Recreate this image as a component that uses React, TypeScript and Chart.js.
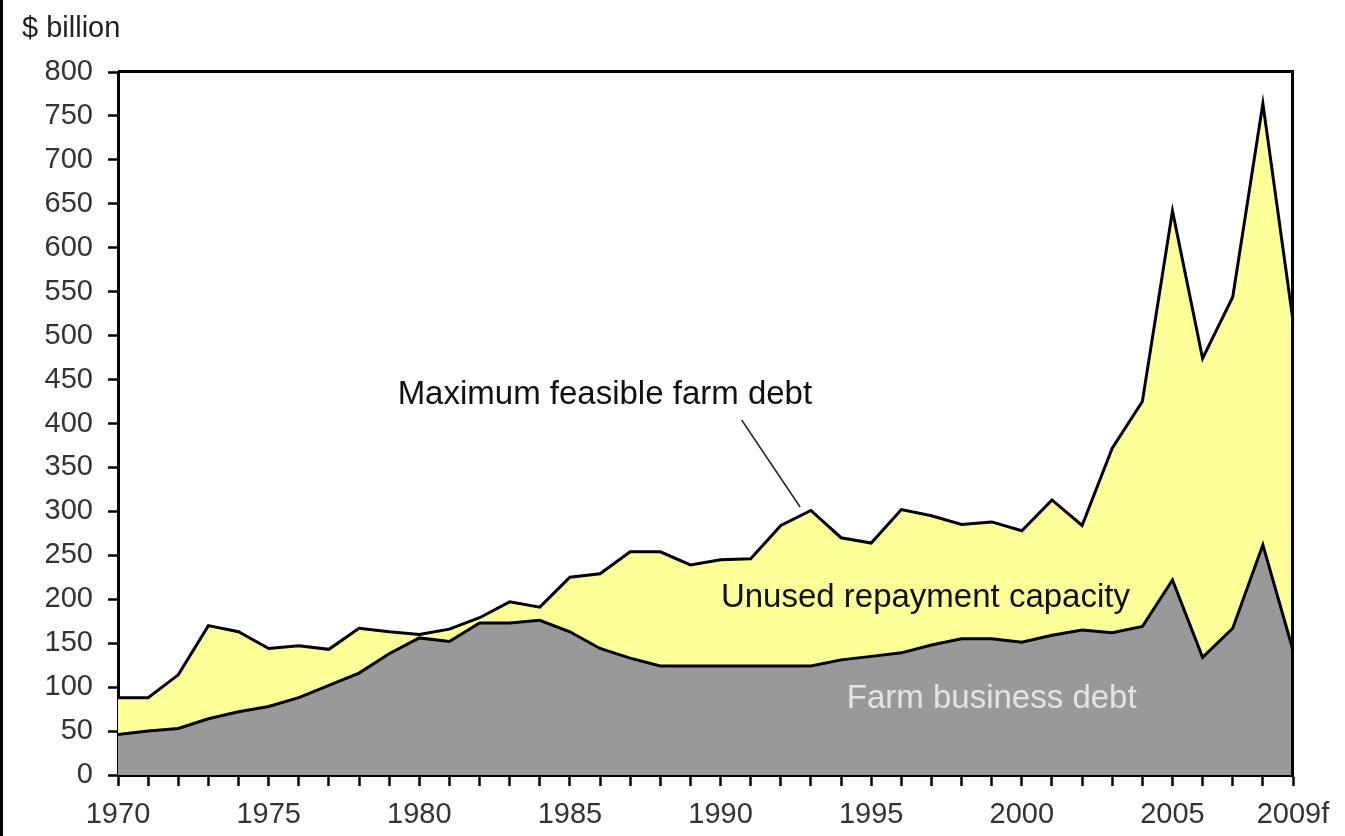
import React, { useEffect, useRef } from "react";
import { Chart, registerables } from "chart.js";

Chart.register(...registerables);

const years: string[] = [
  "1970","1971","1972","1973","1974","1975","1976","1977","1978","1979",
  "1980","1981","1982","1983","1984","1985","1986","1987","1988","1989",
  "1990","1991","1992","1993","1994","1995","1996","1997","1998","1999",
  "2000","2001","2002","2003","2004","2005","2006","2007","2008","2009f",
];

const farmBusinessDebt: number[] = [
  46, 50, 53, 64, 72, 78, 88, 102, 116, 138,
  156, 152, 173, 173, 176, 163, 144, 133, 124, 124,
  124, 124, 124, 124, 131, 135, 139, 148, 155, 155,
  151, 159, 165, 162, 169, 222, 134, 167, 262, 142,
];

const maxFeasibleDebt: number[] = [
  88, 88, 114, 170, 163, 144, 147, 143, 167, 163,
  160, 166, 179, 197, 191, 225, 229, 254, 254, 239,
  245, 246, 284, 301, 270, 264, 302, 295, 285, 288,
  278, 313, 284, 372, 425, 642, 474, 544, 764, 517,
];

const yTicks: number[] = [0, 50, 100, 150, 200, 250, 300, 350, 400, 450, 500, 550, 600, 650, 700, 750, 800];

// annotations in data coordinates (category index, value)
const labelMax = { text: "Maximum feasible farm debt", x: 16.16, y: 432 };
const labelUnused = { text: "Unused repayment capacity", x: 26.8, y: 201 };
const labelFarm = { text: "Farm business debt", x: 29.0, y: 86.5 };
const leader = { x1: 20.7, y1: 404, x2: 22.64, y2: 305 };

const FONT = "'Liberation Sans', Arial, sans-serif";

export default function App() {
  const ref = useRef<HTMLCanvasElement | null>(null);

  useEffect(() => {
    document.body.style.margin = "0";
    const canvas = ref.current;
    if (!canvas) return;

    const decor = {
      id: "decor",
      afterDraw(chart: any) {
        const { ctx, chartArea, scales } = chart;
        const xs = scales.x;
        const ys = scales.y;
        ctx.save();
        // frame top & right
        ctx.strokeStyle = "#000";
        ctx.lineWidth = 3;
        ctx.beginPath();
        ctx.moveTo(chartArea.left, Math.round(chartArea.top) - 0.5);
        ctx.lineTo(Math.round(chartArea.right) - 0.5, Math.round(chartArea.top) - 0.5);
        ctx.lineTo(Math.round(chartArea.right) - 0.5, chartArea.bottom);
        ctx.stroke();
        // left image border
        ctx.beginPath();
        ctx.moveTo(1.5, 0);
        ctx.lineTo(1.5, chart.height);
        ctx.stroke();

        // leader line
        ctx.strokeStyle = "#222";
        ctx.lineWidth = 1.5;
        ctx.beginPath();
        ctx.moveTo(xs.getPixelForValue(leader.x1), ys.getPixelForValue(leader.y1));
        ctx.lineTo(xs.getPixelForValue(leader.x2), ys.getPixelForValue(leader.y2));
        ctx.stroke();

        ctx.textAlign = "center";
        ctx.textBaseline = "middle";
        ctx.font = `33px ${FONT}`;
        ctx.fillStyle = "#111";
        ctx.fillText(labelMax.text, xs.getPixelForValue(labelMax.x), ys.getPixelForValue(labelMax.y));
        ctx.fillText(labelUnused.text, xs.getPixelForValue(labelUnused.x), ys.getPixelForValue(labelUnused.y));
        ctx.fillStyle = "#e4e4e4";
        ctx.fillText(labelFarm.text, xs.getPixelForValue(labelFarm.x), ys.getPixelForValue(labelFarm.y));

        // unit label
        ctx.textAlign = "left";
        ctx.font = `29px ${FONT}`;
        ctx.fillStyle = "#222";
        ctx.fillText("$ billion", 22, 29);
        ctx.restore();
      },
    };

    const chart = new Chart(canvas, {
      type: "line",
      data: {
        labels: years,
        datasets: [
          {
            label: "Farm business debt",
            data: farmBusinessDebt,
            borderColor: "#000",
            borderWidth: 3,
            backgroundColor: "#999999",
            fill: "origin",
            pointRadius: 0,
            tension: 0,
          },
          {
            label: "Maximum feasible farm debt",
            data: maxFeasibleDebt,
            borderColor: "#000",
            borderWidth: 3,
            backgroundColor: "#ffff99",
            fill: "origin",
            pointRadius: 0,
            tension: 0,
          },
        ],
      },
      options: {
        animation: false,
        responsive: false,
        maintainAspectRatio: false,
        layout: { padding: { left: 0, top: 72, right: 52, bottom: 0 } },
        plugins: {
          legend: { display: false },
          tooltip: { enabled: false },
          title: { display: false },
        },
        scales: {
          x: {
            type: "category",
            offset: false,
            grid: {
              drawOnChartArea: false,
              drawTicks: true,
              tickLength: 11,
              tickWidth: 2.5,
              tickColor: "#000",
            },
            border: { display: true, color: "#000", width: 3 },
            ticks: {
              autoSkip: false,
              maxRotation: 0,
              minRotation: 0,
              padding: 12,
              color: "#333",
              font: { family: FONT, size: 29 },
              callback: (_v: any, i: number) =>
                i % 5 === 0 || i === years.length - 1 ? years[i] : "",
            },
            afterFit: (s: any) => {
              s.height = 61;
            },
          },
          y: {
            min: 0,
            max: 800,
            afterBuildTicks: (s: any) => {
              s.ticks = yTicks.map((v) => ({ value: v }));
            },
            grid: {
              drawOnChartArea: false,
              drawTicks: true,
              tickLength: 10,
              tickWidth: 2.5,
              tickColor: "#000",
            },
            border: { display: true, color: "#000", width: 3 },
            ticks: {
              padding: 15,
              color: "#333",
              font: { family: FONT, size: 29 },
            },
            afterFit: (s: any) => {
              s.width = 118;
            },
          },
        },
      },
      plugins: [decor],
    });

    return () => chart.destroy();
  }, []);

  return (
    <div style={{ position: "absolute", left: 0, top: 0, width: 1345, height: 836 }}>
      <canvas ref={ref} width={1345} height={836} style={{ width: 1345, height: 836 }} />
    </div>
  );
}
